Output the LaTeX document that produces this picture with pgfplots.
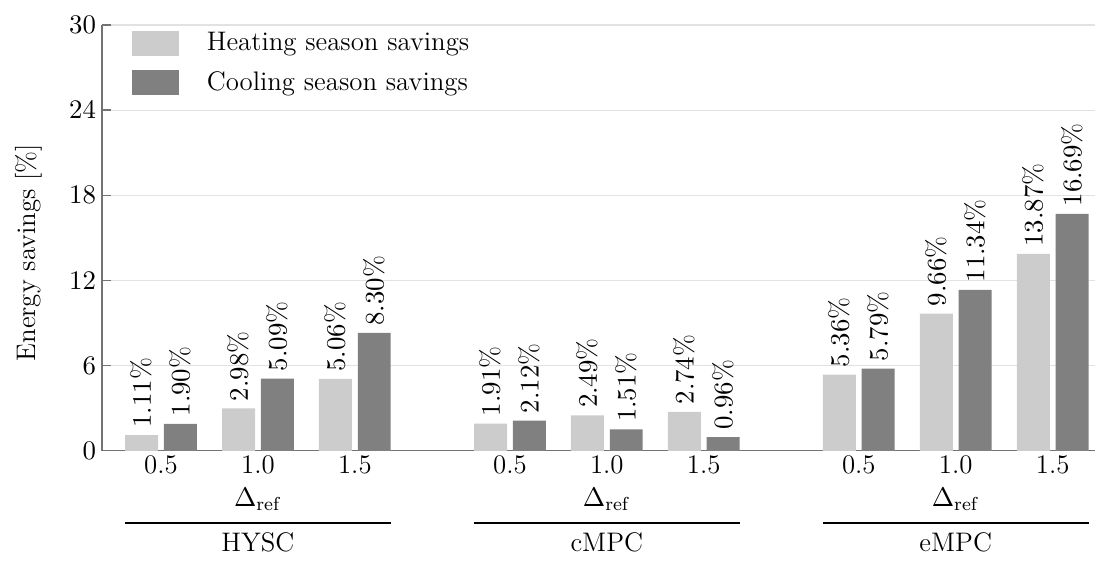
\RequirePackage{fix-cm}
\documentclass[border=0pt]{standalone}
\usepackage{pgfplots}
\pgfplotsset{compat=1.18}
\definecolor{heat}{RGB}{204,204,204}
\definecolor{cool}{RGB}{128,128,128}
\definecolor{gridc}{RGB}{226,226,226}
\definecolor{axisc}{RGB}{115,115,115}

\begin{document}
\fontsize{11.5pt}{14pt}\selectfont
\begin{tikzpicture}
\begin{axis}[
  scale only axis,
  width=426pt, height=182.6pt,
  ybar,
  bar width=0.34,
  clip=false,
  xmin=-0.61, xmax=9.64,
  ymin=0, ymax=30,
  ytick={0,6,12,18,24,30},
  xtick={0,1,2,3.6,4.6,5.6,7.2,8.2,9.2},
  xticklabels={0.5,1.0,1.5,0.5,1.0,1.5,0.5,1.0,1.5},
  xticklabel style={yshift=2pt},
  yticklabel style={xshift=1.5pt},
  axis lines*=left,
  axis line style={axisc, line width=0.6pt},
  ymajorgrids,
  grid style={gridc, line width=0.5pt},
  y tick style={axisc, line width=0.6pt},
  x tick style={draw=none},
  tick align=inside,
  major tick length=4pt,
  ylabel={Energy savings [\%]},
  ylabel style={at={(axis description cs:-0.0735,0.465)}, anchor=center},
  nodes near coords={\pgfmathprintnumber[fixed,fixed zerofill,precision=2]{\pgfplotspointmeta}\%},
  every node near coord/.append style={rotate=90, anchor=west, inner sep=3pt},
  legend style={draw=none, fill=none, at={(axis description cs:0,1)}, anchor=north west,
    xshift=12.5pt, yshift=-1.1pt, inner sep=0pt, row sep=3pt, legend cell align=left},
  legend image code/.code={\fill[#1] (0pt,-5.3pt) rectangle (20.3pt,5.3pt);},
]
\addplot[fill=heat, draw=none, bar shift=-0.2] coordinates {
  (0,1.11) (1,2.98) (2,5.06)
  (3.6,1.91) (4.6,2.49) (5.6,2.74)
  (7.2,5.36) (8.2,9.66) (9.2,13.87)
};
\addplot[fill=cool, draw=none, bar shift=0.2] coordinates {
  (0,1.90) (1,5.09) (2,8.30)
  (3.6,2.12) (4.6,1.51) (5.6,0.96)
  (7.2,5.79) (8.2,11.34) (9.2,16.69)
};
\legend{\hspace{10pt}Heating season savings, \hspace{10pt}Cooling season savings}

% white room above and left of the axis, as in the reference
\path ([yshift=10.7pt]axis cs:0,30);
\path ([xshift=-43.7pt]axis cs:-0.61,15);

% group labels below the axis
\node at ([yshift=-21pt]axis cs:1,0) {$\Delta_{\mathrm{ref}}$};
\node at ([yshift=-21pt]axis cs:4.6,0) {$\Delta_{\mathrm{ref}}$};
\node at ([yshift=-21pt]axis cs:8.2,0) {$\Delta_{\mathrm{ref}}$};
\draw[line width=0.6pt] ([yshift=-31pt]axis cs:-0.37,0) -- ([yshift=-31pt]axis cs:2.37,0);
\draw[line width=0.6pt] ([yshift=-31pt]axis cs:3.23,0) -- ([yshift=-31pt]axis cs:5.97,0);
\draw[line width=0.6pt] ([yshift=-31pt]axis cs:6.83,0) -- ([yshift=-31pt]axis cs:9.57,0);
\node at ([yshift=-39.3pt]axis cs:1,0) {HYSC};
\node at ([yshift=-39.3pt]axis cs:4.6,0) {cMPC};
\node at ([yshift=-39.3pt]axis cs:8.2,0) {eMPC};
\end{axis}
\end{tikzpicture}
\end{document}
